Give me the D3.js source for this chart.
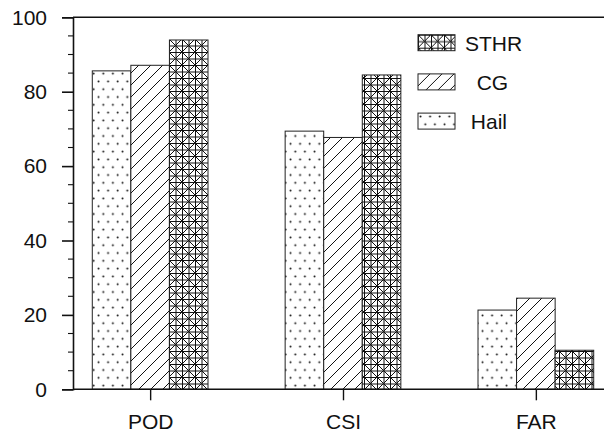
<!DOCTYPE html>
<html>
<head>
<meta charset="UTF-8">
<style>
  body { margin: 0; background: #fff; }
  svg { display: block; font-family: "Liberation Sans", Arial, sans-serif; }
</style>
</head>
<body>
<svg></svg>
<script src="https://d3js.org/d3.v7.min.js"></script>
<script>
  // chart data
  var categories = ["POD", "CSI", "FAR"];
  var series = ["Hail", "CG", "STHR"];
  var hail = [85.6, 69.4, 21.3];
  var cg = [87.1, 67.7, 24.5];
  var sthr = [93.9, 84.5, 10.5];
  var yTicks = [0, 20, 40, 60, 80, 100];
  var legendOrder = ["STHR", "CG", "Hail"];
  var legendLabels = ["STHR", "  CG", " Hail"];

  var values = { Hail: hail, CG: cg, STHR: sthr };

  var width = 604, height = 436;
  var svg = d3.select("svg").attr("width", width).attr("height", height);

  // x runs on category index, the frame is wider than the window (cut off on the right)
  var x = d3.scaleLinear().domain([0.6, 3.4]).range([73, 613]);
  var y = d3.scaleLinear().domain([0, 100]).range([389.3, 17.3]);
  var barW = 0.2;
  var offsets = { Hail: -0.2, CG: 0, STHR: 0.2 };

  // fill patterns
  var defs = svg.append("defs");

  var dots = defs.append("pattern").attr("id", "p-Hail")
    .attr("patternUnits", "userSpaceOnUse").attr("width", 9.6).attr("height", 15.6);
  dots.append("rect").attr("width", 9.6).attr("height", 15.6).attr("fill", "#fff");
  dots.append("circle").attr("cx", 2.5).attr("cy", 3.5).attr("r", 1).attr("fill", "#111");
  dots.append("circle").attr("cx", 7.3).attr("cy", 11.3).attr("r", 1).attr("fill", "#111");

  var diag = defs.append("pattern").attr("id", "p-CG")
    .attr("patternUnits", "userSpaceOnUse").attr("width", 12).attr("height", 12);
  diag.append("rect").attr("width", 12).attr("height", 12).attr("fill", "#fff");
  diag.append("path").attr("d", "M-3,3 L3,-3 M0,12 L12,0 M9,15 L15,9")
    .attr("stroke", "#111").attr("stroke-width", 1);

  var hatch = defs.append("pattern").attr("id", "p-STHR")
    .attr("patternUnits", "userSpaceOnUse").attr("width", 13).attr("height", 13);
  hatch.append("rect").attr("width", 13).attr("height", 13).attr("fill", "#fff");
  hatch.append("path")
    .attr("d", "M0.5,0 V13 M7,0 V13 M0,0.5 H13 M0,7 H13 M0,0 L13,13 M13,0 L0,13")
    .attr("stroke", "#111").attr("stroke-width", 1);

  // bars
  series.forEach(function (s) {
    svg.append("g").selectAll("rect")
      .data(values[s])
      .enter().append("rect")
      .attr("x", function (d, i) { return x(i + 1 + offsets[s] - barW / 2); })
      .attr("width", function () { return x(barW) - x(0); })
      .attr("y", function (d) { return y(d); })
      .attr("height", function (d) { return y(0) - y(d); })
      .attr("fill", "url(#p-" + s + ")")
      .attr("stroke", "#222")
      .attr("stroke-width", 1);
  });

  // frame
  svg.append("line").attr("x1", x(0.6)).attr("x2", x(3.4)).attr("y1", y(100)).attr("y2", y(100))
    .attr("stroke", "#111").attr("stroke-width", 1.6);
  svg.append("line").attr("x1", x(0.6)).attr("x2", x(3.4)).attr("y1", y(0)).attr("y2", y(0))
    .attr("stroke", "#111").attr("stroke-width", 1.6);

  // y axis with outward major and minor ticks
  var yAxis = svg.append("g").attr("transform", "translate(" + x(0.6) + ",0)")
    .call(d3.axisLeft(y).tickValues(yTicks).tickSize(11).tickPadding(15));
  yAxis.attr("font-size", null).attr("font-family", null);
  yAxis.select(".domain").attr("stroke", "#111").attr("stroke-width", 1.6);
  yAxis.selectAll(".tick line").attr("stroke", "#111").attr("stroke-width", 1.6);
  yAxis.selectAll(".tick text").style("font-size", "21px").attr("fill", "#111");

  var minor = d3.range(0, 101, 5).filter(function (v) { return v % 20 !== 0; });
  yAxis.selectAll(".minor").data(minor).enter().append("line")
    .attr("class", "minor")
    .attr("x1", -5).attr("x2", 0)
    .attr("y1", function (d) { return y(d); }).attr("y2", function (d) { return y(d); })
    .attr("stroke", "#111").attr("stroke-width", 1.1);

  // x axis
  var xAxis = svg.append("g").attr("transform", "translate(0," + y(0) + ")")
    .call(d3.axisBottom(x).tickValues([1, 2, 3])
      .tickFormat(function (d) { return categories[d - 1]; })
      .tickSize(11).tickPadding(14));
  xAxis.attr("font-size", null).attr("font-family", null);
  xAxis.select(".domain").remove();
  xAxis.selectAll(".tick line").attr("stroke", "#111").attr("stroke-width", 1.4);
  xAxis.selectAll(".tick text").style("font-size", "21px").attr("fill", "#111");

  // legend
  var legend = svg.append("g").selectAll("g")
    .data(legendOrder)
    .enter().append("g")
    .attr("transform", function (d, i) { return "translate(418," + (34.7 + i * 39.2) + ")"; });

  legend.append("rect")
    .attr("width", 37).attr("height", 16)
    .attr("fill", function (d) { return "url(#p-" + d + ")"; })
    .attr("stroke", "#222").attr("stroke-width", 1);

  legend.append("text")
    .attr("x", 47).attr("y", 16)
    .style("font-size", "21px").attr("fill", "#111")
    .style("white-space", "pre")
    .text(function (d, i) { return legendLabels[i]; });
</script>
</body>
</html>
